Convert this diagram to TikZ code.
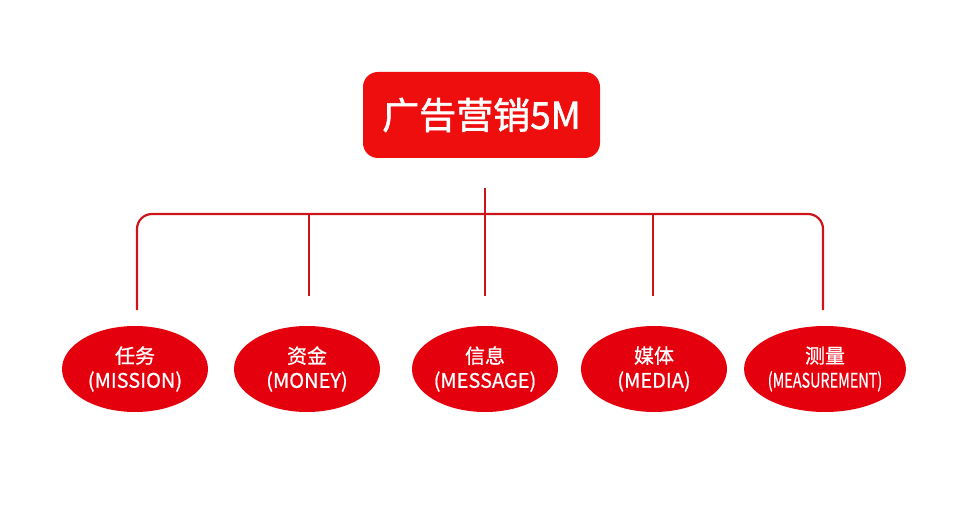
\documentclass[tikz,border=0pt]{standalone}
\usetikzlibrary{shapes.geometric}
\usepackage{fontspec}
\setmainfont{Noto Sans CJK SC}
\newfontfamily\medfont{Noto Sans CJK SC}[FakeBold=1.5]
\newfontfamily\lightmed{Noto Sans CJK SC}[FakeBold=0.8]
\definecolor{boxred}{RGB}{238,14,14}
\definecolor{ellred}{RGB}{228,0,12}
\definecolor{linered}{RGB}{204,20,26}
\begin{document}
\begin{tikzpicture}[x=1pt,y=1pt,
  topbox/.style={fill=boxred,rounded corners=15pt,minimum width=237pt,minimum height=86pt,text=white,font=\medfont\fontsize{37}{40}\selectfont,inner sep=0pt},
  item/.style={ellipse,fill=ellred,minimum width=146pt,minimum height=86pt,text=white,inner sep=0pt,align=center,font=\lightmed\fontsize{20}{24.5}\selectfont},
  conn/.style={draw=linered,line width=2.2pt}]
\useasboundingbox (0,0) rectangle (961,512);
\node[topbox] (top) at (481.5,397) {广告营销5M};
\coordinate (t1) at (485,324);
\coordinate (j) at (485,298);
\coordinate (t2) at (485,216);
\coordinate (a) at (137,202);
\coordinate (b) at (309,216);
\coordinate (d) at (653,216);
\coordinate (e) at (823,202);
\draw[conn] (t1) -- (t2);
\draw[conn,rounded corners=15pt] (a) |- (j) -| (e);
\draw[conn] (b) -- (b |- j);
\draw[conn] (d) -- (d |- j);
\node[item] (m1) at (135,143) {任务\\(MISSION)};
\node[item] (m2) at (307,143) {资金\\(MONEY)};
\node[item] (m3) at (485,143) {信息\\(MESSAGE)};
\node[item] (m4) at (654,143) {媒体\\(MEDIA)};
\node[item] (m5) at (825,143) {测量\\\scalebox{0.72}[1]{(MEASUREMENT)}};
\end{tikzpicture}
\end{document}
